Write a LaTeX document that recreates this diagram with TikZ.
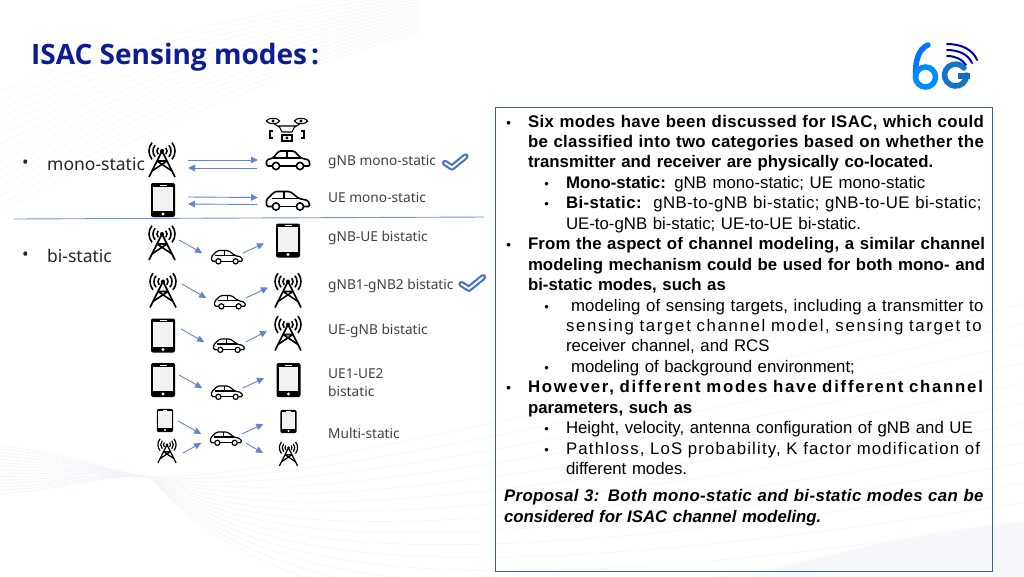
\documentclass[tikz,border=0pt]{standalone}
\usepackage{fontspec}
\setmainfont{Liberation Sans}
\newfontfamily\labelfont{Noto Sans}
\newfontfamily\titlefont{Open Sans}
\usepackage{xcolor}
\usetikzlibrary{arrows.meta, positioning}

\definecolor{titleblue}{HTML}{0B1C94}
\definecolor{sigblue}{HTML}{4472C4}
\definecolor{boxblue}{HTML}{3F5F8F}
\definecolor{labelgray}{HTML}{404040}

\newcommand{\bulit}{\leavevmode\llap{{\fontsize{13}{13}\selectfont\textbullet}\hspace{17pt}}}
\newcommand{\fitline}[3]{\leavevmode\hbox to #1{\addfontfeatures{LetterSpace=#2}#3}}

\tikzset{
    iconbox/.style = {inner sep=0pt, outer sep=0pt, transform shape},
    tower/.pic = {
        \node [iconbox, minimum width=30pt, minimum height=34pt] (-n) {};
        \draw (-13,17) -- (0,-9) -- (13,17);
        \draw (-5,1) -- (5,1) (-5,1) -- (10,11) (5,1) -- (-10,11);
        \fill (0,-9) circle (2);
        \foreach \r in {5,9,13} {
            \draw (0,-9) ++(-40:\r) arc (-40:40:\r);
            \draw (0,-9) ++(140:\r) arc (140:220:\r);
        }
    },
    phone/.pic = {
        \node [iconbox, minimum width=24pt, minimum height=34pt] (-n) {};
        \fill [black, rounded corners=2pt] (-12,-17) rectangle (12,17);
        \fill [white!95!black] (-9.7,-13.5) rectangle (9.7,11);
        \draw [white, line width=.5pt] (-3.5,-15.2) -- (3.5,-15.2);
        \fill [white] (0,14) circle (1.6);
    },
    sedan/.pic = {
        \node [iconbox, minimum width=44pt, minimum height=18pt] (-n) {};
        \draw [rounded corners=1.5pt] (-16,6) -- (-21.5,6) -- (-21.5,0) -- (-15,-2) -- (-9,-9) -- (6,-9) -- (13,-2) -- (21,0) -- (22,6) -- (16,6);
        \draw (-8,6) -- (8,6) (-15,-2) -- (13,-2) (-1,-9) -- (-1,-2);
        \draw (-12,6) circle (3.6) (12,6) circle (3.6);
    },
    hatch/.pic = {
        \node [iconbox, minimum width=44pt, minimum height=18pt] (-n) {};
        \draw [rounded corners=1.5pt] (-16,6) -- (-21.5,6) -- (-21.5,-1) -- (-13,-9) -- (2,-9) -- (11,-2) -- (20,0) -- (22,6) -- (16,6);
        \draw (-8,6) -- (8,6) (-16,-2) -- (11,-2) (-4,-9) -- (-4,-2);
        \draw (-12,6) circle (3.6) (12,6) circle (3.6);
    },
    drone/.pic = {
        \node [iconbox, minimum width=41pt, minimum height=24pt] (-n) {};
        \draw (-14,-8) ellipse (6.5 and 2.6) (14,-8) ellipse (6.5 and 2.6);
        \fill (-14,-8) circle (1.6) (14,-8) circle (1.6);
        \draw (-14,-6) -- (-8,-2) (14,-6) -- (8,-2);
        \draw (-8,-3) -- (8,-3) -- (5,3) -- (-5,3) -- cycle;
        \draw (-14,2) -- (-17,2) -- (-17,9) -- (-14,9) (14,2) -- (17,2) -- (17,9) -- (14,9);
        \draw (-5,6) rectangle (5,12);
        \fill (0,9) circle (1.6);
    },
    tick/.pic = {
        \draw [sigblue, line width=6.2pt, line cap=round, line join=round] (-10,1) -- (-3,5.5) -- (10.5,-5.5);
        \draw [white, line width=1.9pt, line cap=round, line join=round] (-10,1) -- (-3,5.5) -- (10.5,-5.5);
    }
}

\begin{document}
\begin{tikzpicture}[
        x=1pt, y=-1pt,
        sig/.style = {-{Triangle[length=7pt,width=6.5pt]}, sigblue!85, line width=.9pt},
        bigicon/.style = {line width=1.6pt},
        smallicon/.style = {scale=.72, line width=1.2pt},
        droneicon/.style = {line width=1.1pt},
        modetext/.style = {anchor=west, inner sep=0pt, font=\labelfont\fontsize{17.5}{21}\selectfont, text=black!85},
        modelabel/.style = {anchor=west, inner sep=0pt, align=left, font=\labelfont\fontsize{13.7}{18}\selectfont, text=labelgray},
        mainitem/.style = {anchor=north west, inner sep=0pt, outer sep=0pt, text width=456pt, align=left, font=\fontsize{16.8}{20.45}\selectfont\bfseries, execute at begin node=\strut, execute at end node=\strut},
        subitem/.style = {anchor=north west, inner sep=0pt, outer sep=0pt, text width=418pt, align=left, font=\fontsize{16.8}{20.45}\selectfont, execute at begin node=\strut, execute at end node=\strut}
    ]
        \useasboundingbox (0,0) rectangle (1024,576);

        % Background waves
        \begin{scope}
            \clip (0,0) rectangle (1024,576);
            \fill [white] (0,0) rectangle (1024,576);
            \foreach \i in {0,...,14} {
                \draw [black!3, line width=.6pt] (-20,100+9*\i) .. controls (120,40+7*\i) and (260,10+5*\i) .. (420,-10+3*\i);
                \draw [black!4, line width=.6pt] (150,477) .. controls (260,478+9*\i) and (470,430+16*\i) .. (1040,300+20*\i);
                \draw [sigblue!8, line width=.6pt] (-10,445+3.5*\i) .. controls (60,450+3*\i) and (110,472) .. (150,477);
            }
            \fill [sigblue!5] (700,590) .. controls (800,560) and (920,530) .. (1040,520) -- (1040,590) -- cycle;
        \end{scope}

        % Title and logo
        \node [anchor=base west, inner sep=0pt, text=titleblue, font=\titlefont\fontsize{28}{30}\selectfont\bfseries] (title) at (31,64) {ISAC Sensing modes\hspace{4pt}:};
        \begin{scope}[line cap=round]
            \draw [blue!55!cyan, line width=5.5pt] (928,45) .. controls (918,49) and (915,62) .. (915.5,77);
            \draw [blue!45!cyan, line width=5.5pt] (925.5,77) circle (10);
            \draw [cyan!55!blue, line width=5.5pt] (964,68) arc (-40:-360:11);
            \draw [cyan!45!blue, line width=5.5pt, line cap=butt] (958,76) -- (970,76);
            \draw [blue!70!black, line width=2pt] (947,44) .. controls (962,44) and (973,50) .. (977,60);
            \draw [blue!70!black, line width=2pt] (947,50) .. controls (958,50) and (968,54) .. (972,63);
            \draw [blue!70!black, line width=2pt] (947,56) .. controls (955,56) and (962,59) .. (966,65);
        \end{scope}

        % Mono-static rows
        \node [modetext] (monotext) at (47,164) {mono-static};
        \node [modetext, anchor=west] (monodot) at (22,164) {•};
        \pic [bigicon] (gnbA) at (162,160) {tower};
        \pic (ueA) at (163,200) {phone};
        \pic [droneicon] (uav) at (287,129) {drone};
        \pic [bigicon] (carA) at (288,160) {sedan};
        \pic [bigicon] (carB) at (288,200.5) {hatch};
        \node [modelabel] (gnbmono) at (328,162) {gNB mono-static};
        \node [modelabel] (uemono) at (328,198) {UE mono-static};
        \pic at (455,162) {tick};

        \draw [sig] ([shift={(11,0)}]gnbA-n.east) -- ([shift={(-8,0)}]carA-n.west);
        \draw [sig] ([shift={(-9,8)}]carA-n.west) -- ([shift={(11,8)}]gnbA-n.east);
        \draw [sig] ([shift={(13,-3)}]ueA-n.east) -- ([shift={(-8,-3)}]carB-n.west);
        \draw [sig] ([shift={(-9,4)}]carB-n.west) -- ([shift={(13,4)}]ueA-n.east);

        % Divider
        \node [inner sep=0pt] (divleft) at (13,219) {};
        \node [inner sep=0pt] (divright) at (485,217) {};
        \draw [sigblue!75, line width=.9pt] (divleft) -- (divright);

        % Bi-static rows
        \node [modetext] (bitext) at (47,256) {bi-static};
        \node [modetext] (bidot) at (22,256) {•};

        \pic [bigicon] (gnbB) at (162,243) {tower};
        \pic [smallicon] (carC) at (227,257) {hatch};
        \pic (ueB) at (288,240.5) {phone};
        \node [modelabel] (gnbue) at (328,238) {gNB-UE bistatic};
        \draw [sig] ([shift={(2,-3)}]gnbB-n.east) -- ([shift={(-9,-4)}]carC-n.west);
        \draw [sig] ([shift={(0,-4)}]carC-n.east) -- ([shift={(-12,3)}]ueB-n.west);

        \pic [bigicon] (gnbC) at (163,290.5) {tower};
        \pic [smallicon] (carD) at (230,302) {hatch};
        \pic [bigicon] (gnbD) at (288,290.5) {tower};
        \node [modelabel] (gnbgnb) at (328,286) {gNB1-gNB2 bistatic};
        \pic [scale=1.05] at (472,283) {tick};
        \draw [sig] ([shift={(4,-6.5)}]gnbC-n.east) -- ([shift={(-8,-4)}]carD-n.west);
        \draw [sig] ([shift={(0,-4)}]carD-n.east) -- ([shift={(-5,-3)}]gnbD-n.west);

        \pic (ueC) at (163,335.5) {phone};
        \pic [smallicon] (carE) at (229,345.5) {hatch};
        \pic [bigicon] (gnbE) at (288,333.5) {tower};
        \node [modelabel] (uegnb) at (328,331) {UE-gNB bistatic};
        \draw [sig] ([shift={(6,-6.5)}]ueC-n.east) -- ([shift={(-9,-3.5)}]carE-n.west);
        \draw [sig] ([shift={(1,-3.5)}]carE-n.east) -- ([shift={(-6,-2.5)}]gnbE-n.west);

        \pic (ueD) at (163,380) {phone};
        \pic [smallicon] (carF) at (227,392.5) {hatch};
        \pic (ueE) at (288.5,380) {phone};
        \node [modelabel] (ueue) at (328,382.5) {UE1-UE2\\bistatic};
        \draw [sig] ([shift={(4,-5)}]ueD-n.east) -- ([shift={(-9,-4.5)}]carF-n.west);
        \draw [sig] ([shift={(0,-4.5)}]carF-n.east) -- ([shift={(-12.5,-2)}]ueE-n.west);

        \pic [scale=.68] (ueF) at (165,420.5) {phone};
        \pic [smallicon, scale=.97] (gnbF) at (167,451) {tower};
        \pic [smallicon] (carG) at (226,438.5) {hatch};
        \pic [scale=.68] (ueG) at (288.5,421.5) {phone};
        \pic [smallicon, scale=.97] (gnbG) at (288.5,454) {tower};
        \node [modelabel] (multi) at (328,433) {Multi-static};
        \draw [sig] ([shift={(5,.5)}]ueF-n.east) -- ([shift={(-9,-4.5)}]carG-n.west);
        \draw [sig] ([shift={(5.5,2)}]gnbF-n.east) -- ([shift={(-9,4.5)}]carG-n.west);
        \draw [sig] ([shift={(0,-4.5)}]carG-n.east) -- ([shift={(-17,2.5)}]ueG-n.west);
        \draw [sig] ([shift={(4,4.5)}]carG-n.east) -- ([shift={(-15,-1)}]gnbG-n.west);

        % Proposal box
        \node [draw=boxblue, line width=.9pt, minimum width=497pt, minimum height=464pt, inner sep=0pt] (propbox) at (743.5,339) {};
        \node [mainitem] (sixmodes) at (528,112.7) {\bulit\fitline{456pt}{2.2}{Six modes have been discussed for ISAC, which could}\\ \fitline{456pt}{2}{be classified into two categories based on whether the}\\ transmitter and receiver are physically co-located.};
        \node [subitem] (monoitem) at ([xshift=38pt]sixmodes.west |- sixmodes.south) {\bulit\textbf{Mono-static:} gNB mono-static; UE mono-static};
        \node [subitem] (biitem) at (monoitem.south west) {\bulit\fitline{418pt}{2.5}{\textbf{Bi-static:}\ \ gNB-to-gNB bi-static; gNB-to-UE bi-static;}\\ UE-to-gNB bi-static; UE-to-UE bi-static.};
        \node [mainitem] (aspect) at (sixmodes.west |- biitem.south) {\bulit\fitline{456pt}{1}{From the aspect of channel modeling, a similar channel}\\ \fitline{456pt}{.3}{modeling mechanism could be used for both mono- and}\\ bi-static modes, such as};
        \node [subitem] (targets) at (monoitem.west |- aspect.south) {\bulit\fitline{418pt}{1.2}{\hspace*{5pt}modeling of sensing targets, including a transmitter to}\\ \fitline{418pt}{10}{sensing target channel model, sensing target to}\\ receiver channel, and RCS};
        \node [subitem] (environ) at (targets.south west) {\bulit\hspace*{5pt}modeling of background environment;};
        \node [mainitem] (however) at (sixmodes.west |- environ.south) {\bulit\fitline{456pt}{10.4}{However, different modes have different channel}\\ parameters, such as};
        \node [subitem] (height) at (monoitem.west |- however.south) {\bulit Height, velocity, antenna configuration of gNB and UE};
        \node [subitem] (pathloss) at (height.south west) {\bulit\fitline{418pt}{7}{Pathloss, LoS probability, K factor modification of}\\ different modes.};
        \node [mainitem, text width=480pt, font=\fontsize{16.8}{20.45}\selectfont\bfseries\itshape] (proposal) at ([shift={(-24,6.5)}]sixmodes.west |- pathloss.south) {\fitline{480pt}{2.3}{Proposal 3: Both mono-static and bi-static modes can be}\\ considered for ISAC channel modeling.};
    \end{tikzpicture}
\end{document}
